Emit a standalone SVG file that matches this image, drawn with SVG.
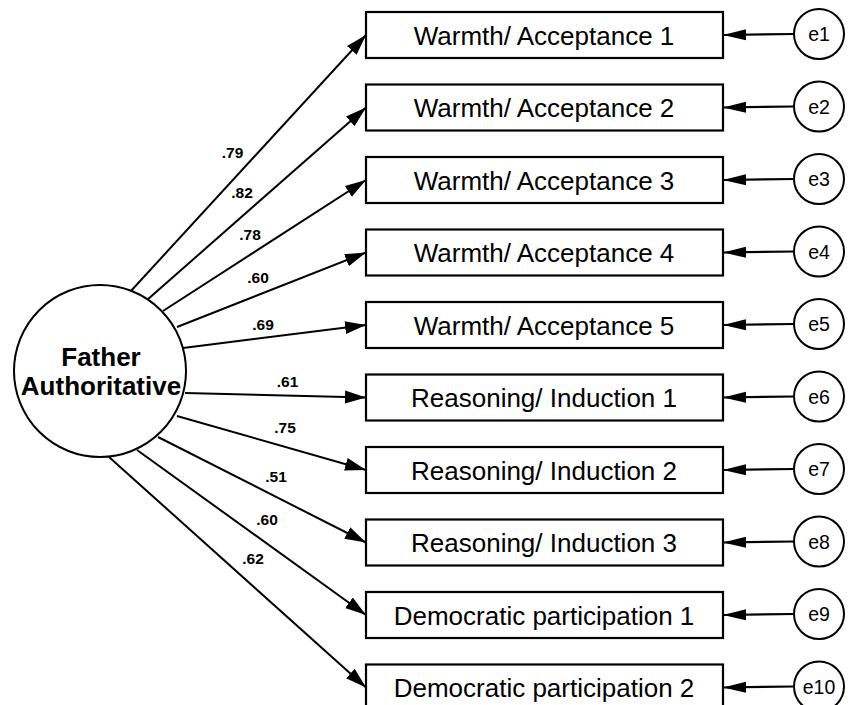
<svg xmlns="http://www.w3.org/2000/svg" width="849" height="705" viewBox="0 0 849 705">
  <style>
    .bg { fill: #ffffff; }
    .latent { fill: #ffffff; stroke: #000; stroke-width: 2; }
    .box { fill: #ffffff; stroke: #000; stroke-width: 2.2; }
    .err { fill: #ffffff; stroke: #000; stroke-width: 2; }
    .path { stroke: #000; stroke-width: 2; fill: none; marker-end: url(#head); }
    .epath { stroke: #000; stroke-width: 2.2; fill: none; marker-end: url(#ehead); }
    .latent-label { font-family: "Liberation Sans", Arial, sans-serif; font-weight: bold; font-size: 26px; text-anchor: middle; fill: #000; }
    .box-label { font-family: "Liberation Sans", Arial, sans-serif; font-size: 26px; text-anchor: middle; fill: #000; }
    .err-label { font-family: "Liberation Sans", Arial, sans-serif; font-size: 19.5px; text-anchor: middle; fill: #000; }
    .coef { font-family: "Liberation Sans", Arial, sans-serif; font-weight: bold; font-size: 15.5px; text-anchor: middle; fill: #000; }
  </style>
  <defs>
    <marker id="head" markerUnits="userSpaceOnUse" markerWidth="22" markerHeight="16" viewBox="0 0 22 16" refX="21" refY="8" orient="auto">
      <path d="M0,1.5 L21,8 L0,14.5 Z" fill="#000"/>
    </marker>
    <marker id="ehead" markerUnits="userSpaceOnUse" markerWidth="24" markerHeight="14" viewBox="0 0 24 14" refX="23" refY="7" orient="auto">
      <path d="M0,1.5 L23,7 L0,12.5 Z" fill="#000"/>
    </marker>
  </defs>

  <rect class="bg" x="0" y="0" width="849" height="705"/>

  <!-- loadings from the latent factor to its indicators -->
  <g id="connectors">
    <line class="path" x1="130" y1="292" x2="366" y2="35"/>
    <line class="path" x1="147" y1="300" x2="366" y2="107.5"/>
    <line class="path" x1="163" y1="311" x2="366" y2="180"/>
    <line class="path" x1="177" y1="327" x2="366" y2="252.5"/>
    <line class="path" x1="183" y1="348" x2="366" y2="325"/>
    <line class="path" x1="185" y1="393" x2="366" y2="397.5"/>
    <line class="path" x1="177" y1="416" x2="366" y2="470"/>
    <line class="path" x1="158" y1="437" x2="366" y2="542.5"/>
    <line class="path" x1="137" y1="450" x2="366" y2="615"/>
    <line class="path" x1="109" y1="457" x2="366" y2="687.5"/>

    <!-- error terms -->
    <line class="epath" x1="794" y1="34" x2="723" y2="35"/>
    <line class="epath" x1="794" y1="106.5" x2="723" y2="107.5"/>
    <line class="epath" x1="794" y1="179" x2="723" y2="180"/>
    <line class="epath" x1="794" y1="251.5" x2="723" y2="252.5"/>
    <line class="epath" x1="794" y1="324" x2="723" y2="325"/>
    <line class="epath" x1="794" y1="396.5" x2="723" y2="397.5"/>
    <line class="epath" x1="794" y1="469" x2="723" y2="470"/>
    <line class="epath" x1="794" y1="541.5" x2="723" y2="542.5"/>
    <line class="epath" x1="794" y1="614" x2="723" y2="615"/>
    <line class="epath" x1="794" y1="686.5" x2="723" y2="687.5"/>

    <!-- standardized coefficients -->
    <text class="coef" x="232.5" y="158">.79</text>
    <text class="coef" x="242" y="198">.82</text>
    <text class="coef" x="250" y="240">.78</text>
    <text class="coef" x="258" y="283">.60</text>
    <text class="coef" x="263" y="330">.69</text>
    <text class="coef" x="287.5" y="387">.61</text>
    <text class="coef" x="285" y="433">.75</text>
    <text class="coef" x="276" y="482">.51</text>
    <text class="coef" x="267" y="525">.60</text>
    <text class="coef" x="253" y="564">.62</text>
  </g>

  <!-- latent factor -->
  <g id="father-authoritative">
    <circle class="latent" cx="100" cy="371" r="86"/>
    <text class="latent-label" x="101" y="366">Father</text>
    <text class="latent-label" x="101" y="395">Authoritative</text>
  </g>

  <!-- observed indicators -->
  <g id="wa1"><rect class="box" x="366" y="12" width="357" height="46"/><text class="box-label" x="544" y="44.5">Warmth/ Acceptance 1</text></g>
  <g id="wa2"><rect class="box" x="366" y="84.5" width="357" height="46"/><text class="box-label" x="544" y="117">Warmth/ Acceptance 2</text></g>
  <g id="wa3"><rect class="box" x="366" y="157" width="357" height="46"/><text class="box-label" x="544" y="189.5">Warmth/ Acceptance 3</text></g>
  <g id="wa4"><rect class="box" x="366" y="229.5" width="357" height="46"/><text class="box-label" x="544" y="262">Warmth/ Acceptance 4</text></g>
  <g id="wa5"><rect class="box" x="366" y="302" width="357" height="46"/><text class="box-label" x="544" y="334.5">Warmth/ Acceptance 5</text></g>
  <g id="ri1"><rect class="box" x="366" y="374.5" width="357" height="46"/><text class="box-label" x="544" y="407">Reasoning/ Induction 1</text></g>
  <g id="ri2"><rect class="box" x="366" y="447" width="357" height="46"/><text class="box-label" x="544" y="479.5">Reasoning/ Induction 2</text></g>
  <g id="ri3"><rect class="box" x="366" y="519.5" width="357" height="46"/><text class="box-label" x="544" y="552">Reasoning/ Induction 3</text></g>
  <g id="dp1"><rect class="box" x="366" y="592" width="357" height="46"/><text class="box-label" x="544" y="624.5">Democratic participation 1</text></g>
  <g id="dp2"><rect class="box" x="366" y="664.5" width="357" height="46"/><text class="box-label" x="544" y="697">Democratic participation 2</text></g>

  <!-- residuals -->
  <g id="e1"><circle class="err" cx="819" cy="34" r="25"/><text class="err-label" x="819" y="41">e1</text></g>
  <g id="e2"><circle class="err" cx="819" cy="106.5" r="25"/><text class="err-label" x="819" y="113.5">e2</text></g>
  <g id="e3"><circle class="err" cx="819" cy="179" r="25"/><text class="err-label" x="819" y="186">e3</text></g>
  <g id="e4"><circle class="err" cx="819" cy="251.5" r="25"/><text class="err-label" x="819" y="258.5">e4</text></g>
  <g id="e5"><circle class="err" cx="819" cy="324" r="25"/><text class="err-label" x="819" y="331">e5</text></g>
  <g id="e6"><circle class="err" cx="819" cy="396.5" r="25"/><text class="err-label" x="819" y="403.5">e6</text></g>
  <g id="e7"><circle class="err" cx="819" cy="469" r="25"/><text class="err-label" x="819" y="476">e7</text></g>
  <g id="e8"><circle class="err" cx="819" cy="541.5" r="25"/><text class="err-label" x="819" y="548.5">e8</text></g>
  <g id="e9"><circle class="err" cx="819" cy="614" r="25"/><text class="err-label" x="819" y="621">e9</text></g>
  <g id="e10"><circle class="err" cx="819" cy="686.5" r="25"/><text class="err-label" x="819" y="693.5">e10</text></g>
</svg>
